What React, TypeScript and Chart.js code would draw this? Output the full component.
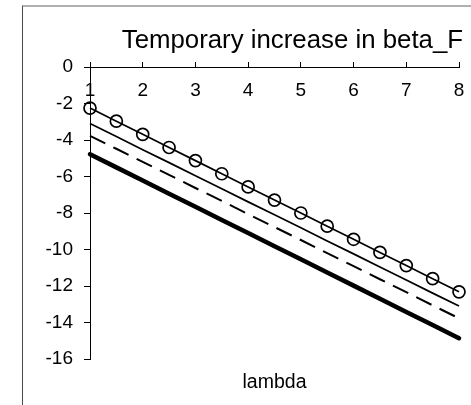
import React, { useEffect, useRef } from 'react';
import { Chart, registerables } from 'chart.js';

Chart.register(...registerables);

const titleText = 'Temporary increase in beta_F';
const xAxisTitle = 'lambda';

const lambdaValues = [1, 1.5, 2, 2.5, 3, 3.5, 4, 4.5, 5, 5.5, 6, 6.5, 7, 7.5, 8];
const circleSeries = [-2.25, -2.97, -3.69, -4.41, -5.13, -5.85, -6.57, -7.29, -8.0, -8.72, -9.44, -10.16, -10.88, -11.6, -12.32];
const thinSeries = [-3.1, -3.81, -4.53, -5.24, -5.96, -6.67, -7.39, -8.1, -8.81, -9.53, -10.24, -10.96, -11.67, -12.39, -13.1];
const dashedSeries = [-3.77, -4.48, -5.2, -5.91, -6.63, -7.34, -8.06, -8.77, -9.48, -10.2, -10.91, -11.63, -12.34, -13.06, -13.77];
const thickSeries = [-4.78, -5.5, -6.22, -6.94, -7.66, -8.38, -9.1, -9.82, -10.54, -11.26, -11.98, -12.7, -13.42, -14.14, -14.86];

const xTicks = [1, 2, 3, 4, 5, 6, 7, 8];
const yTicks = [0, -2, -4, -6, -8, -10, -12, -14, -16];

const FONT = "'Liberation Sans', Arial, sans-serif";

export default function App() {
  const ref = useRef<HTMLCanvasElement>(null);

  useEffect(() => {
    if (!ref.current) return;
    const toPts = (ys: number[]) => lambdaValues.map((x, i) => ({ x, y: ys[i] }));
    const chart = new Chart(ref.current, {
      type: 'line',
      data: {
        datasets: [
          {
            data: toPts(circleSeries),
            xAxisID: 'x',
            yAxisID: 'y',
            borderColor: '#000',
            borderWidth: 1.7,
            pointRadius: 6,
            pointBorderWidth: 1.7,
            pointBackgroundColor: 'rgba(0,0,0,0)',
            pointBorderColor: '#000',
            tension: 0,
            clip: false,
          },
          {
            data: toPts(thinSeries),
            xAxisID: 'x',
            yAxisID: 'y',
            borderColor: '#000',
            borderWidth: 1.7,
            pointRadius: 0,
            tension: 0,
            clip: false,
          },
          {
            data: toPts(dashedSeries),
            xAxisID: 'x',
            yAxisID: 'y',
            borderColor: '#000',
            borderWidth: 2,
            borderDash: [17, 9],
            pointRadius: 0,
            tension: 0,
            clip: false,
          },
          {
            data: toPts(thickSeries),
            xAxisID: 'x',
            yAxisID: 'y',
            borderColor: '#000',
            borderWidth: 4.5,
            borderCapStyle: 'round',
            pointRadius: 0,
            tension: 0,
            clip: false,
          },
        ],
      },
      options: {
        animation: false,
        responsive: false,
        events: [],
        layout: { padding: { left: 0, right: 8, top: 0, bottom: 0 } },
        plugins: {
          legend: { display: false },
          tooltip: { enabled: false },
          title: {
            display: true,
            text: titleText,
            align: 'end',
            color: '#000',
            font: { family: FONT, size: 25.8, weight: 'normal', lineHeight: '30px' },
            padding: { top: 26, bottom: 0 },
          },
        },
        scales: {
          x: {
            type: 'linear',
            position: 'top',
            min: 1,
            max: 8,
            afterBuildTicks: (s: any) => {
              s.ticks = xTicks.map((v) => ({ value: v }));
            },
            ticks: {
              mirror: true,
              padding: 12,
              color: '#000',
              maxRotation: 0,
              autoSkip: false,
              font: { family: FONT, size: 19, lineHeight: 1.2 },
              callback: (v: any) => String(v),
            },
            grid: { drawOnChartArea: false, tickLength: 5, color: '#000', lineWidth: 1 },
            border: { color: '#000', width: 1 },
            afterFit: (s: any) => {
              s.height = 11;
              s.paddingLeft = 0;
              s.paddingRight = 0;
            },
          },
          y: {
            type: 'linear',
            position: 'left',
            min: -16,
            max: 0,
            afterBuildTicks: (s: any) => {
              s.ticks = yTicks.map((v) => ({ value: v }));
            },
            ticks: {
              padding: 11,
              color: '#000',
              autoSkip: false,
              font: { family: FONT, size: 19, lineHeight: 1.2 },
              callback: (v: any) => String(v),
            },
            grid: { drawOnChartArea: false, tickLength: 6, color: '#000', lineWidth: 1 },
            border: { color: '#000', width: 1 },
            afterFit: (s: any) => {
              s.width = 90;
              s.paddingTop = 0;
              s.paddingBottom = 0;
            },
          },
          x2: {
            type: 'linear',
            position: 'bottom',
            display: true,
            grid: { display: false },
            border: { display: false },
            ticks: { display: false },
            title: {
              display: true,
              text: xAxisTitle,
              color: '#000',
              font: { family: FONT, size: 19.5, lineHeight: '22px' },
              padding: { top: 0, bottom: 11 },
            },
            afterFit: (s: any) => {
              s.height = 46;
              s.paddingLeft = 0;
              s.paddingRight = 0;
            },
          },
          y2: {
            type: 'linear',
            position: 'right',
            display: true,
            grid: { display: false },
            border: { display: false },
            ticks: { display: false },
            afterFit: (s: any) => {
              s.width = 4;
              s.paddingTop = 0;
              s.paddingBottom = 0;
            },
          },
        },
      },
    } as any);
    return () => chart.destroy();
  }, []);

  return (
    <div style={{ position: 'absolute', left: 0, top: 0, width: 471, height: 405, background: '#fff', overflow: 'hidden' }}>
      <div
        style={{
          position: 'absolute',
          left: 22,
          top: 5,
          right: -5,
          bottom: -5,
          borderLeft: '1px solid #4a4a4a',
          borderTop: '2px solid #b0b0b0',
        }}
      />
      <canvas ref={ref} width={471} height={405} style={{ position: 'absolute', left: 0, top: 0 }} />
    </div>
  );
}
